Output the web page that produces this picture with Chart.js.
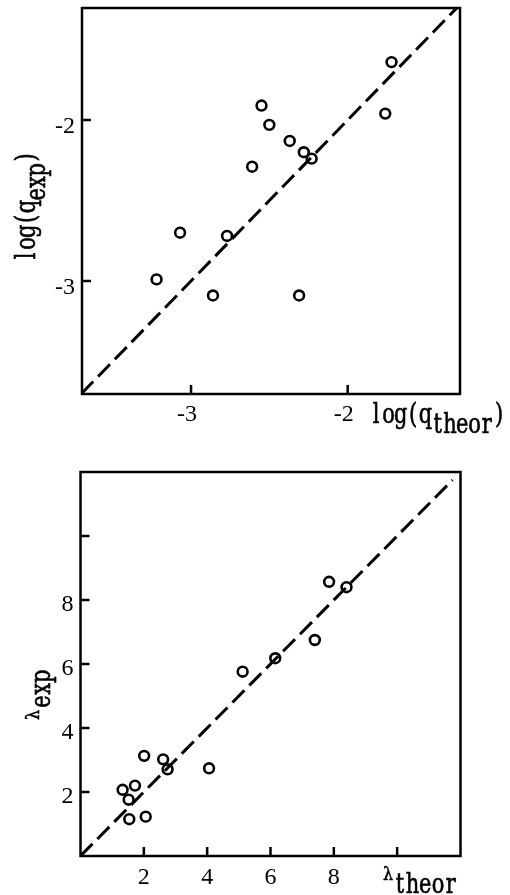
<!DOCTYPE html>
<html><head><meta charset="utf-8">
<script src="https://cdn.jsdelivr.net/npm/chart.js@4/dist/chart.umd.min.js"></script>
<style>
html,body{margin:0;padding:0;background:#fff;}
body{width:510px;height:895px;position:relative;overflow:hidden;}
canvas{position:absolute;left:0;}
#c1{top:0}
#c2{top:450px}
</style></head><body>
<canvas id="c1" width="510" height="440"></canvas>
<canvas id="c2" width="510" height="445"></canvas>
<script>
// ---- Top panel: log(q) ----
const qTheor = [-1.72, -2.55, -2.50, -2.37, -2.28, -2.23, -1.76, -2.61, -3.07, -2.77, -3.22, -2.86, -2.31];
const qExp   = [-1.64, -1.91, -2.03, -2.13, -2.20, -2.24, -1.96, -2.29, -2.70, -2.72, -2.99, -3.09, -3.09];
const qTickValues = [-3, -2];
const qTickLabels = ['-3', '-2'];
const qLineEnds = [-3.70, -1.30];

// ---- Bottom panel: lambda ----
const lamTheor = [1.33, 1.52, 1.72, 1.54, 2.06, 2.01, 2.61, 2.75, 4.06, 5.12, 6.15, 7.40, 7.85, 8.40];
const lamExp   = [2.07, 1.76, 2.20, 1.15, 1.23, 3.13, 3.02, 2.71, 2.74, 5.76, 6.18, 6.75, 8.57, 8.40];
const lamTickValues = [2, 4, 6, 8, 10];
const lamTickLabels = ['2', '4', '6', '8', ''];
const lamLineEnds = [0, 11.75];

const TITLE_FONT = '"DejaVu Serif", serif';
const TICK_FONT = '"Liberation Serif", serif';

// typewriter-style text: each character centred in a fixed-width cell
function drawRuns(ctx, x, y, rotate, runs) {
  ctx.save();
  ctx.translate(x, y);
  if (rotate) ctx.rotate(-Math.PI / 2);
  let cx = 0;
  runs.forEach(r => {
    ctx.font = r.size + 'px ' + TITLE_FONT;
    ctx.textBaseline = 'alphabetic';
    ctx.textAlign = 'center';
    ctx.lineWidth = 0.5;
    ctx.strokeStyle = '#000';
    for (const ch of r.t) {
      ctx.save();
      ctx.translate(cx + r.adv / 2, r.dy || 0);
      ctx.scale(r.sx || 1, r.sy || 1);
      ctx.fillText(ch, 0, 0);
      ctx.strokeText(ch, 0, 0);
      ctx.restore();
      cx += r.adv;
    }
  });
  ctx.restore();
}

const framePlugin = {
  id: 'frame',
  afterDraw(chart, args, opts) {
    const {ctx, chartArea: ca, scales} = chart;
    ctx.save();
    ctx.strokeStyle = '#000';
    ctx.fillStyle = '#000';
    ctx.lineWidth = opts.lineWidth;
    ctx.strokeRect(ca.left, ca.top, ca.right - ca.left, ca.bottom - ca.top);
    ctx.lineWidth = opts.tickWidth;
    ctx.beginPath();
    scales.x.ticks.forEach(t => {
      const px = scales.x.getPixelForValue(t.value);
      ctx.moveTo(px, ca.bottom); ctx.lineTo(px, ca.bottom - opts.tickLen);
    });
    scales.y.ticks.forEach(t => {
      const py = scales.y.getPixelForValue(t.value);
      ctx.moveTo(ca.left, py); ctx.lineTo(ca.left + opts.tickLen, py);
    });
    ctx.stroke();
    const xt = opts.xTitle, yt = opts.yTitle;
    drawRuns(ctx, ca.right + xt.dx, ca.bottom + xt.dy, false, xt.runs);
    drawRuns(ctx, ca.left + yt.dx, ca.top + yt.dy, true, yt.runs);
    ctx.restore();
  }
};

function makeChart(id, cfg) {
  const tickFont = {family: TICK_FONT, size: cfg.tickSize};
  return new Chart(document.getElementById(id), {
    type: 'scatter',
    data: {
      datasets: [
        {
          data: cfg.xs.map((x, i) => ({x: x, y: cfg.ys[i]})),
          pointRadius: 4.9, pointHoverRadius: 4.9, borderWidth: 2.6,
          borderColor: '#000', backgroundColor: 'rgba(0,0,0,0)', pointStyle: 'circle'
        },
        {
          data: cfg.line.map(v => ({x: v, y: v})),
          showLine: true, pointRadius: 0, borderColor: '#000', borderWidth: 3,
          borderDash: [17, 7], fill: false
        }
      ]
    },
    options: {
      responsive: false, animation: false, devicePixelRatio: 1,
      layout: {padding: cfg.padding, autoPadding: false},
      events: [],
      plugins: {
        legend: {display: false}, tooltip: {enabled: false},
        frame: {lineWidth: 2.5, tickWidth: 2.5, tickLen: 9, xTitle: cfg.xTitle, yTitle: cfg.yTitle}
      },
      scales: {
        x: {
          type: 'linear', min: cfg.xMin, max: cfg.xMax,
          afterBuildTicks: s => { s.ticks = cfg.ticks.map(v => ({value: v})); },
          afterFit: s => { s.height = cfg.xHeight; s.paddingLeft = 0; s.paddingRight = 0; },
          grid: {display: false, drawTicks: false}, border: {display: false},
          ticks: {padding: cfg.xPad, labelOffset: cfg.xLabelOffset, font: tickFont, color: '#000',
                  maxRotation: 0, autoSkip: false, callback: (v, i) => cfg.labels[i]}
        },
        y: {
          type: 'linear', min: cfg.yMin, max: cfg.yMax,
          afterBuildTicks: s => { s.ticks = cfg.ticks.map(v => ({value: v})); },
          afterFit: s => { s.width = cfg.yWidth; s.paddingTop = 0; s.paddingBottom = 0; },
          grid: {display: false, drawTicks: false}, border: {display: false},
          ticks: {padding: 7, labelOffset: cfg.yLabelOffset, font: tickFont, color: '#000',
                  autoSkip: false, callback: (v, i) => cfg.labels[i]}
        }
      }
    },
    plugins: [framePlugin]
  });
}

function build() {
  const T = {size: 21, sx: 1, sy: 1.3, adv: 12.3};
  makeChart('c1', {
    xs: qTheor, ys: qExp, line: qLineEnds, ticks: qTickValues, labels: qTickLabels,
    xMin: -3.696, xMax: -1.283, yMin: -3.702, yMax: -1.304,
    padding: {left: 0, top: 8, right: 50, bottom: 0},
    xHeight: 46, yWidth: 82, tickSize: 24, xPad: 6, xLabelOffset: -4, yLabelOffset: 7,
    xTitle: {dx: -90, dy: 29, runs: [
      Object.assign({t: 'log(q'}, T),
      Object.assign({t: 'theor', dy: 10}, T),
      Object.assign({t: ')'}, T)
    ]},
    yTitle: {dx: -47, dy: 254, runs: [
      Object.assign({t: 'log(q'}, T),
      Object.assign({t: 'exp', dy: 10}, T),
      Object.assign({t: ')'}, T)
    ]}
  });

  const L = {size: 21, sx: 1, sy: 1.3, adv: 12.7};
  makeChart('c2', {
    xs: lamTheor, ys: lamExp, line: lamLineEnds, ticks: lamTickValues, labels: lamTickLabels,
    xMin: 0, xMax: 12, yMin: 0, yMax: 12,
    padding: {left: 0, top: 22, right: 49.5, bottom: 0},
    xHeight: 39, yWidth: 80.5, tickSize: 24, xPad: 7, xLabelOffset: 0, yLabelOffset: 5,
    xTitle: {dx: -78, dy: 24, runs: [
      {t: 'λ', size: 16, sx: 1, sy: 1.1, adv: 11},
      Object.assign({t: 'theor', dy: 13}, L)
    ]},
    yTitle: {dx: -42, dy: 250, runs: [
      {t: 'λ', size: 16, sx: 1, sy: 1.1, adv: 14},
      Object.assign({t: 'exp', dy: 11}, L)
    ]}
  });
}

if (document.fonts && document.fonts.load) {
  Promise.all([
    document.fonts.load('21px "DejaVu Serif"'),
    document.fonts.load('24px "Liberation Serif"')
  ]).then(build, build);
} else {
  build();
}
</script>
</body></html>
